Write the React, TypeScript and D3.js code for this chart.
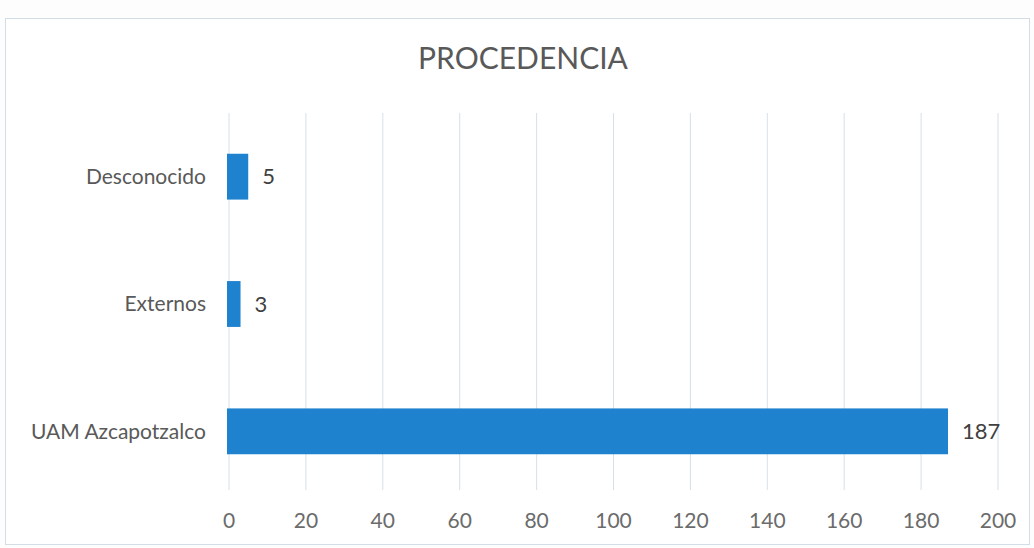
import React, { useEffect, useRef } from 'react';
import * as d3 from 'd3';

// Chart data
const categories = ['Desconocido', 'Externos', 'UAM Azcapotzalco'];
const values = [5, 3, 187];
const xTicks = [0, 20, 40, 60, 80, 100, 120, 140, 160, 180, 200];
const title = 'PROCEDENCIA';

const W = 1034;
const H = 548;

const App: React.FC = () => {
  const svgRef = useRef<SVGSVGElement>(null);

  useEffect(() => {
    if (!svgRef.current) return;
    const svg = d3.select(svgRef.current);
    svg.selectAll('*').remove();

    const font = 'Lato, "Open Sans", sans-serif';

    // background + frame
    svg.append('rect')
      .attr('width', W).attr('height', H).attr('fill', '#fdfdfd');
    svg.append('rect')
      .attr('x', 5.5).attr('y', 18.5)
      .attr('width', 1024).attr('height', 526)
      .attr('fill', '#ffffff')
      .attr('stroke', '#d3dde6');

    const x = d3.scaleLinear().domain([0, 200]).range([229, 998]);
    const y = d3.scaleBand<string>()
      .domain(categories)
      .range([113, 495])
      .paddingInner(0.64)
      .paddingOuter(0.32);

    // title
    svg.append('text')
      .attr('x', 523).attr('y', 69)
      .attr('text-anchor', 'middle')
      .attr('font-family', font)
      .attr('font-size', 30)
      .attr('fill', '#595959')
      .text(title);

    // gridlines
    svg.append('g')
      .selectAll('line')
      .data(xTicks)
      .join('line')
      .attr('x1', d => x(d)).attr('x2', d => x(d))
      .attr('y1', 113).attr('y2', 490)
      .attr('stroke', '#d6e0ea')
      .attr('stroke-width', 1);

    // tick labels
    svg.append('g')
      .selectAll('text')
      .data(xTicks)
      .join('text')
      .attr('x', d => x(d))
      .attr('y', 528)
      .attr('text-anchor', 'middle')
      .attr('font-family', font)
      .attr('font-size', 21)
      .attr('fill', '#6b6b6b')
      .text(d => d);

    // bars
    svg.append('g')
      .selectAll('rect')
      .data(categories)
      .join('rect')
      .attr('x', x(0) - 2)
      .attr('y', d => y(d)!)
      .attr('width', (d, i) => x(values[i]) - x(0) + 2)
      .attr('height', y.bandwidth())
      .attr('fill', '#1e82cf');

    // category labels
    svg.append('g')
      .selectAll('text')
      .data(categories)
      .join('text')
      .attr('x', 206)
      .attr('y', d => y(d)! + y.bandwidth() / 2)
      .attr('dy', '0.35em')
      .attr('text-anchor', 'end')
      .attr('font-family', font)
      .attr('font-size', 21)
      .attr('fill', '#595959')
      .text(d => d);

    // value labels
    svg.append('g')
      .selectAll('text')
      .data(categories)
      .join('text')
      .attr('x', (d, i) => x(values[i]) + 14)
      .attr('y', d => y(d)! + y.bandwidth() / 2)
      .attr('dy', '0.35em')
      .attr('font-family', font)
      .attr('font-size', 22)
      .attr('fill', '#404040')
      .text((d, i) => values[i]);
  }, []);

  return (
    <svg
      ref={svgRef}
      width={W}
      height={H}
      style={{ position: 'absolute', left: 0, top: 0, display: 'block' }}
    />
  );
};

export default App;
